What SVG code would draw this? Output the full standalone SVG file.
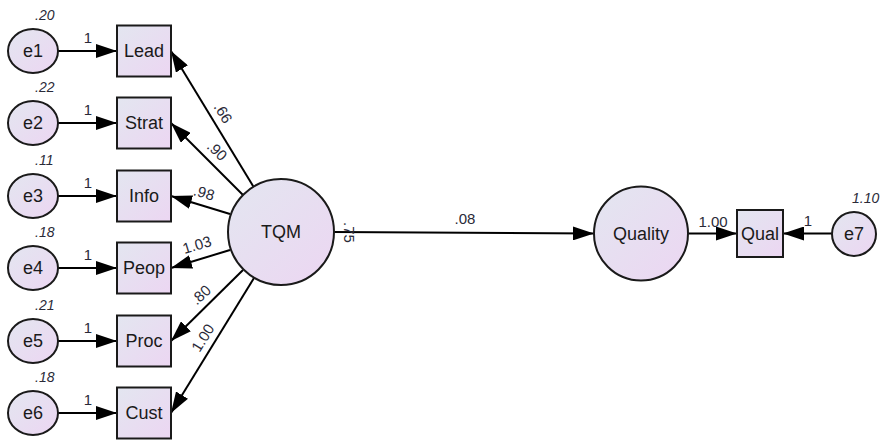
<svg xmlns="http://www.w3.org/2000/svg" width="881" height="441" viewBox="0 0 881 441">
<style>
.shape{fill:url(#g);stroke:#1a1a1a;stroke-width:2}
.nt{font-family:"Liberation Sans",Arial,sans-serif;font-size:18px;fill:#1a1a1a;text-anchor:middle}
.et{font-family:"Liberation Sans",Arial,sans-serif;font-size:18px;fill:#1a1a1a;text-anchor:middle}
.lb{font-family:"Liberation Sans",Arial,sans-serif;font-size:15px;fill:#2a2a38}
.var{font-family:"Liberation Sans",Arial,sans-serif;font-size:14px;font-style:italic;fill:#2a2a38}
.c{stroke:#000;stroke-width:2;fill:none;marker-end:url(#ah)}
</style>
<defs>
<linearGradient id="g" x1="0" y1="0" x2="1" y2="1">
<stop offset="0" stop-color="#e3e6f0"/>
<stop offset="1" stop-color="#ecd6f2"/>
</linearGradient>
<marker id="ah" markerUnits="userSpaceOnUse" markerWidth="21" markerHeight="14" refX="21" refY="7" orient="auto">
<path d="M0,0 L21,7 L0,14 z" fill="#000"/>
</marker>
</defs>
<rect width="881" height="441" fill="#fff"/>

<g id="connectors">
<line class="c" x1="58" y1="51" x2="117" y2="51"/>
<line class="c" x1="58" y1="123" x2="117" y2="123"/>
<line class="c" x1="58" y1="196" x2="117" y2="196"/>
<line class="c" x1="58" y1="268" x2="117" y2="268"/>
<line class="c" x1="58" y1="341" x2="117" y2="341"/>
<line class="c" x1="58" y1="413" x2="117" y2="413"/>
<line class="c" x1="253.5" y1="186.7" x2="171" y2="51"/>
<line class="c" x1="243" y1="195" x2="171" y2="123"/>
<line class="c" x1="230" y1="214" x2="171" y2="196"/>
<line class="c" x1="230" y1="250" x2="171" y2="268"/>
<line class="c" x1="243" y1="270" x2="171" y2="341"/>
<line class="c" x1="254" y1="278" x2="171" y2="413"/>
<line class="c" x1="334" y1="232" x2="594" y2="233.5"/>
<line class="c" x1="688" y1="233.5" x2="737" y2="233.5"/>
<line class="c" x1="832" y1="233.5" x2="783" y2="233.5"/>
<text class="lb" x="88" y="43" text-anchor="middle">1</text>
<text class="lb" x="88" y="115" text-anchor="middle">1</text>
<text class="lb" x="88" y="188" text-anchor="middle">1</text>
<text class="lb" x="88" y="260" text-anchor="middle">1</text>
<text class="lb" x="88" y="333" text-anchor="middle">1</text>
<text class="lb" x="88" y="405" text-anchor="middle">1</text>
<text class="lb" text-anchor="middle" transform="translate(223,113) rotate(58.7)" x="0" y="5">.66</text>
<text class="lb" text-anchor="middle" transform="translate(217,151) rotate(43.8)" x="0" y="5">.90</text>
<text class="lb" text-anchor="middle" transform="translate(204,193) rotate(16)" x="0" y="5">.98</text>
<text class="lb" text-anchor="middle" transform="translate(197,245) rotate(-17)" x="0" y="5">1.03</text>
<text class="lb" text-anchor="middle" transform="translate(201,295) rotate(-43)" x="0" y="5">.80</text>
<text class="lb" text-anchor="middle" transform="translate(203,338) rotate(-58)" x="0" y="5">1.00</text>
<text class="lb" x="465" y="224" text-anchor="middle">.08</text>
<text class="lb" x="713" y="227" text-anchor="middle">1.00</text>
<text class="lb" x="808" y="226" text-anchor="middle">1</text>
</g>

<g id="e1"><ellipse class="shape" cx="33" cy="51" rx="25" ry="22"/><text class="et" x="33" y="57">e1</text><text class="var" x="35" y="20">.20</text></g>
<g id="e2"><ellipse class="shape" cx="33" cy="123" rx="25" ry="22"/><text class="et" x="33" y="129">e2</text><text class="var" x="35" y="92">.22</text></g>
<g id="e3"><ellipse class="shape" cx="33" cy="196" rx="25" ry="22"/><text class="et" x="33" y="202">e3</text><text class="var" x="35" y="165">.11</text></g>
<g id="e4"><ellipse class="shape" cx="33" cy="268" rx="25" ry="22"/><text class="et" x="33" y="274">e4</text><text class="var" x="35" y="237">.18</text></g>
<g id="e5"><ellipse class="shape" cx="33" cy="341" rx="25" ry="22"/><text class="et" x="33" y="347">e5</text><text class="var" x="35" y="310">.21</text></g>
<g id="e6"><ellipse class="shape" cx="33" cy="413" rx="25" ry="22"/><text class="et" x="33" y="419">e6</text><text class="var" x="35" y="382">.18</text></g>

<g id="Lead"><rect class="shape" x="117" y="25.5" width="54" height="51"/><text class="nt" x="144" y="57">Lead</text></g>
<g id="Strat"><rect class="shape" x="117" y="97.5" width="54" height="51"/><text class="nt" x="144" y="129">Strat</text></g>
<g id="Info"><rect class="shape" x="117" y="170.5" width="54" height="51"/><text class="nt" x="144" y="202">Info</text></g>
<g id="Peop"><rect class="shape" x="117" y="242.5" width="54" height="51"/><text class="nt" x="144" y="274">Peop</text></g>
<g id="Proc"><rect class="shape" x="117" y="315.5" width="54" height="51"/><text class="nt" x="144" y="347">Proc</text></g>
<g id="Cust"><rect class="shape" x="117" y="387.5" width="54" height="51"/><text class="nt" x="144" y="419">Cust</text></g>

<g id="TQM"><circle class="shape" cx="281" cy="232" r="53"/><text class="nt" x="281" y="238">TQM</text><text class="lb" transform="translate(344,222) rotate(90)" x="0" y="0">.75</text></g>
<g id="Quality"><circle class="shape" cx="641" cy="233.5" r="47"/><text class="nt" x="641" y="240">Quality</text></g>
<g id="Qual"><rect class="shape" x="737" y="210" width="46" height="47"/><text class="nt" x="760" y="240">Qual</text></g>
<g id="e7"><circle class="shape" cx="854" cy="234" r="22"/><text class="et" x="854" y="240">e7</text><text class="var" x="852" y="203">1.10</text></g>
</svg>
